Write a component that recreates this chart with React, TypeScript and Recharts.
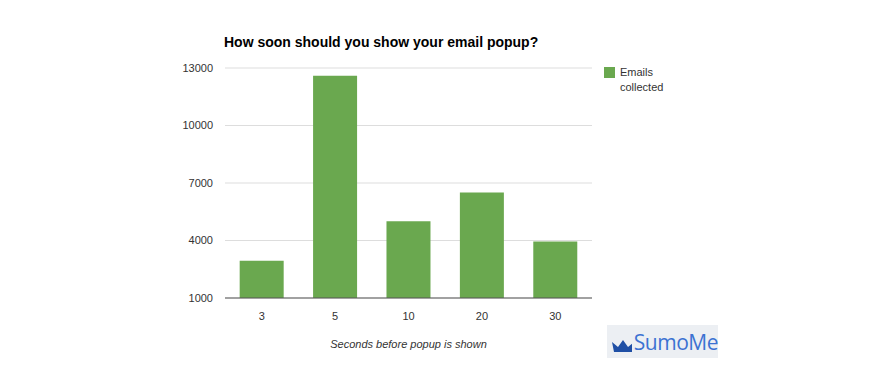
import React from "react";
import {
  BarChart,
  Bar,
  XAxis,
  YAxis,
  CartesianGrid,
  Legend,
} from "recharts";

const seconds = ["3", "5", "10", "20", "30"];
const emails = [2950, 12600, 5000, 6500, 3950];
const yTicks = [1000, 4000, 7000, 10000, 13000];

const data = seconds.map((s, i) => ({ seconds: s, emails: emails[i] }));

const BAR_COLOR = "#6aa84f";
const FONT = "Arial, 'Liberation Sans', Helvetica, sans-serif";

const LegendBox = () => (
  <div style={{ display: "flex", alignItems: "flex-start", fontFamily: FONT, fontSize: 11, color: "#333" }}>
    <div style={{ width: 11, height: 11, background: BAR_COLOR, marginTop: 2, marginRight: 5 }} />
    <div style={{ lineHeight: "15px" }}>
      Emails
      <br />
      collected
    </div>
  </div>
);

const SumoLogo = () => (
  <div
    style={{
      position: "absolute",
      left: 607,
      top: 325,
      width: 111,
      height: 33,
      background: "#eceff3",
      display: "flex",
      alignItems: "center",
    }}
  >
    <svg width={24} height={14} style={{ marginLeft: 4, marginTop: 8 }}>
      <path d="M1 3 L7 8 L12 1 L17 8 L23 3 L21 13 L3 13 Z" fill="#1f4fa5" />
    </svg>
    <span style={{ fontFamily: "'Open Sans', Arial, sans-serif", fontSize: 21, color: "#3c72d2", marginLeft: 2, letterSpacing: -0.5 }}>
      SumoMe
    </span>
  </div>
);

export default function App() {
  return (
    <div style={{ position: "absolute", left: 0, top: 0, width: 880, height: 379, background: "#fff" }}>
      <div
        style={{
          position: "absolute",
          left: 224,
          top: 34,
          fontFamily: FONT,
          fontWeight: "bold",
          fontSize: 14,
          color: "#000",
        }}
      >
        How soon should you show your email popup?
      </div>
      <BarChart
        width={880}
        height={379}
        data={data}
        margin={{ top: 68, right: 198, bottom: 26, left: 0 }}
        barCategoryGap="20%"
      >
        <CartesianGrid vertical={false} stroke="#dddddd" />
        <XAxis
          dataKey="seconds"
          height={55}
          tickLine={false}
          axisLine={{ stroke: "#555" }}
          tick={{ fontFamily: FONT, fontSize: 11, fill: "#333" }}
          tickMargin={8}
          label={{
            value: "Seconds before popup is shown",
            position: "insideBottom",
            offset: 5,
            style: { fontFamily: FONT, fontSize: 11, fontStyle: "italic", fill: "#333" },
          }}
        />
        <YAxis
          width={225}
          domain={[1000, 13000]}
          ticks={yTicks}
          interval={0}
          tickLine={false}
          axisLine={false}
          tickSize={0}
          tickMargin={12}
          tick={{ fontFamily: FONT, fontSize: 11, fill: "#333" }}
        />
        <Legend
          layout="vertical"
          verticalAlign="top"
          align="right"
          content={<LegendBox />}
          wrapperStyle={{ left: 604, top: 65, width: 90 }}
        />
        <Bar dataKey="emails" name="Emails collected" fill={BAR_COLOR} isAnimationActive={false} />
      </BarChart>
      <SumoLogo />
    </div>
  );
}
